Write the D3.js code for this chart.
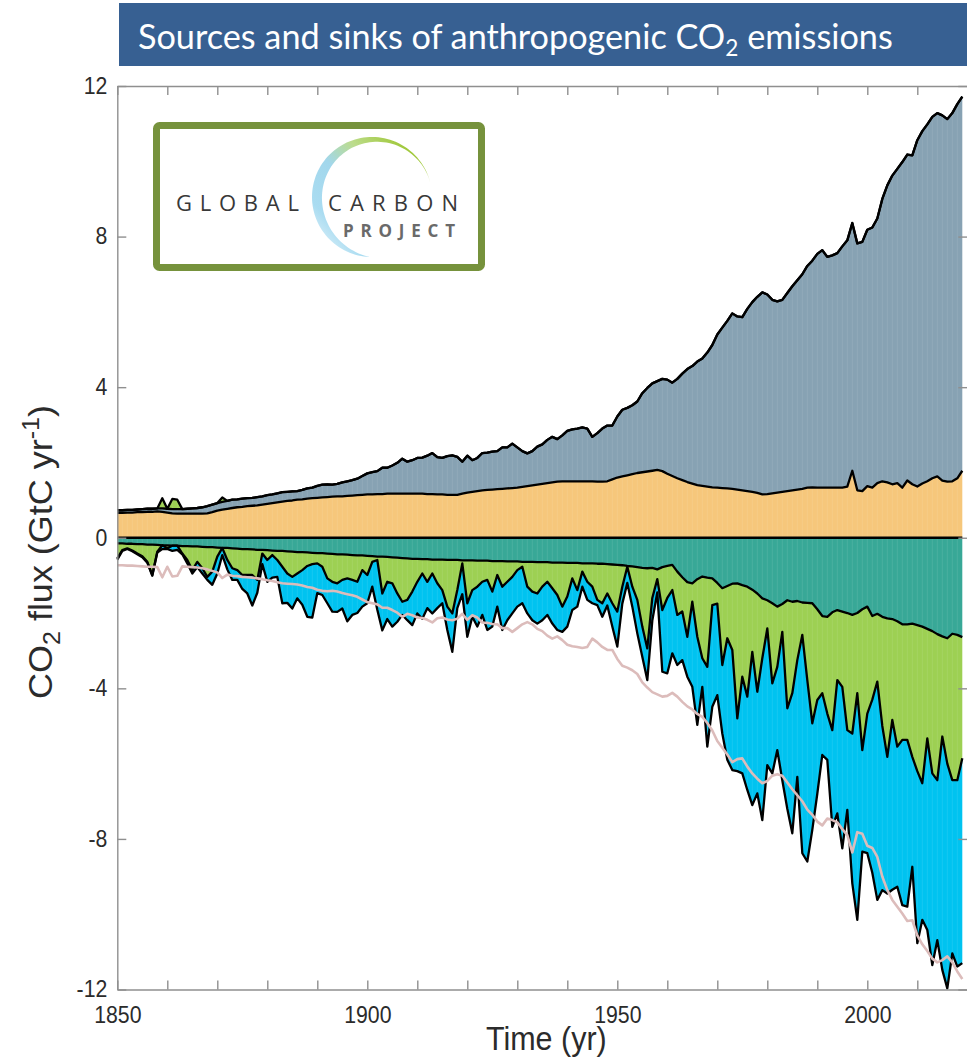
<!DOCTYPE html>
<html>
<head>
<meta charset="utf-8">
<script src="https://cdn.jsdelivr.net/npm/d3@7"></script>
<style>
  body { margin: 0; background: #ffffff; }
  svg { display: block; }
</style>
</head>
<body>
<svg id="chart" width="967" height="1057"></svg>
<script>
// Annual carbon budget components, 1850-2019 (GtC per year)
const firstYear = 1850;
const lastYear = 2019;

const fossil = [
  0.07,0.07,0.07,0.07,0.07,0.08,0.08,0.08,0.08,0.09,
  0.10,0.11,0.12,0.12,0.13,0.14,0.15,0.17,0.19,0.20,
  0.20,0.20,0.21,0.22,0.21,0.22,0.21,0.21,0.22,0.22,
  0.23,0.23,0.24,0.25,0.24,0.24,0.23,0.25,0.27,0.28,
  0.32,0.34,0.34,0.32,0.33,0.37,0.39,0.41,0.44,0.50,
  0.56,0.59,0.61,0.70,0.69,0.75,0.82,0.93,0.85,0.89,
  0.95,0.96,1.02,1.09,0.99,0.97,1.03,1.05,1.01,0.85,
  0.98,0.84,0.88,0.99,0.99,1.01,1.01,1.10,1.09,1.18,
  1.07,0.95,0.87,0.91,1.01,1.05,1.15,1.21,1.13,1.22,
  1.34,1.38,1.40,1.43,1.40,1.18,1.29,1.41,1.48,1.43,
  1.62,1.77,1.79,1.83,1.90,2.10,2.22,2.32,2.36,2.45,
  2.50,2.48,2.64,2.83,3.00,3.12,3.28,3.38,3.56,3.78,
  4.07,4.26,4.45,4.66,4.60,4.60,4.84,5.04,5.21,5.37,
  5.30,5.14,5.08,5.10,5.26,5.42,5.56,5.70,5.89,6.02,
  6.21,6.31,6.13,6.17,6.23,6.41,6.54,6.58,6.56,6.62,
  6.81,6.91,7.03,7.50,7.89,8.20,8.35,8.65,8.66,8.74,
  9.20,9.36,9.48,9.60,9.65,9.70,9.63,9.78,9.94,9.94
];

const landUse = [
  0.66,0.66,0.67,0.67,0.68,0.68,0.69,0.69,0.70,0.69,
  0.67,0.65,0.64,0.64,0.64,0.64,0.64,0.64,0.65,0.68,
  0.72,0.75,0.77,0.79,0.81,0.82,0.84,0.85,0.86,0.88,
  0.90,0.92,0.94,0.96,0.98,0.99,1.01,1.02,1.04,1.05,
  1.06,1.07,1.08,1.09,1.10,1.10,1.11,1.12,1.13,1.14,
  1.15,1.15,1.16,1.16,1.17,1.17,1.17,1.17,1.17,1.17,
  1.17,1.17,1.16,1.16,1.15,1.15,1.14,1.14,1.14,1.17,
  1.20,1.22,1.24,1.26,1.27,1.28,1.29,1.30,1.31,1.32,
  1.33,1.35,1.37,1.39,1.41,1.43,1.45,1.47,1.49,1.50,
  1.50,1.50,1.50,1.50,1.50,1.50,1.49,1.49,1.50,1.55,
  1.60,1.63,1.66,1.69,1.72,1.74,1.76,1.78,1.80,1.77,
  1.70,1.64,1.58,1.53,1.48,1.44,1.40,1.38,1.36,1.34,
  1.33,1.32,1.31,1.30,1.28,1.26,1.24,1.22,1.19,1.15,
  1.16,1.18,1.20,1.22,1.24,1.26,1.28,1.30,1.33,1.34,
  1.33,1.33,1.33,1.33,1.33,1.33,1.36,1.78,1.26,1.24,
  1.37,1.33,1.45,1.50,1.47,1.42,1.45,1.33,1.52,1.42,
  1.36,1.44,1.50,1.58,1.63,1.52,1.49,1.50,1.58,1.78
];

const oceanSink = [
  0.15,0.15,0.16,0.16,0.17,0.17,0.18,0.18,0.19,0.20,
  0.20,0.21,0.21,0.22,0.22,0.23,0.23,0.24,0.25,0.25,
  0.26,0.27,0.27,0.28,0.29,0.30,0.30,0.31,0.32,0.32,
  0.33,0.34,0.35,0.35,0.36,0.37,0.38,0.38,0.39,0.40,
  0.41,0.41,0.42,0.43,0.44,0.44,0.45,0.46,0.47,0.47,
  0.48,0.49,0.50,0.50,0.51,0.52,0.53,0.54,0.55,0.56,
  0.56,0.57,0.57,0.58,0.58,0.58,0.59,0.59,0.59,0.60,
  0.60,0.60,0.61,0.61,0.61,0.62,0.62,0.62,0.63,0.63,
  0.63,0.64,0.64,0.64,0.65,0.65,0.65,0.66,0.66,0.66,
  0.67,0.67,0.67,0.68,0.68,0.68,0.69,0.69,0.70,0.71,
  0.72,0.73,0.75,0.76,0.78,0.80,0.81,0.80,0.84,0.78,
  0.75,0.72,0.90,1.05,1.18,1.21,1.10,1.03,1.06,1.08,
  1.20,1.34,1.28,1.22,1.21,1.26,1.30,1.38,1.48,1.61,
  1.66,1.74,1.83,1.76,1.66,1.70,1.68,1.72,1.73,1.74,
  1.90,2.08,2.10,1.98,1.92,1.96,2.00,2.05,2.00,1.90,
  1.83,2.08,2.02,2.10,2.14,2.16,2.22,2.30,2.30,2.28,
  2.32,2.36,2.42,2.48,2.56,2.62,2.67,2.55,2.58,2.64
];

// positive = uptake by land, negative = land acting as a net source
const landSink = [
  0.40,0.18,0.12,0.18,0.25,0.32,0.46,0.81,0.18,-0.27,
  0.08,-0.27,-0.25,0.20,0.37,0.63,0.41,0.57,0.79,0.65,
  0.24,-0.12,0.32,0.53,0.57,0.69,0.69,0.68,0.80,0.10,
  0.26,0.12,0.24,0.42,0.59,0.67,0.57,0.48,0.36,0.30,
  0.27,0.36,0.66,0.74,0.77,0.68,0.63,0.66,0.70,0.39,
  0.51,0.15,0.09,0.98,0.66,0.69,0.95,1.16,1.10,0.87,
  0.61,0.38,0.60,0.37,0.63,0.81,1.24,1.42,0.80,0.08,
  1.14,0.79,0.69,0.56,0.51,0.81,0.37,0.68,0.54,0.41,
  0.23,0.13,0.66,0.79,0.83,0.65,0.52,0.68,0.86,1.17,
  0.89,0.41,0.72,0.22,0.49,0.62,0.96,1.05,0.78,1.03,
  1.24,0.57,0.02,0.54,0.87,1.56,2.13,0.80,0.26,1.14,
  0.85,0.67,1.15,0.91,1.45,0.49,1.53,2.17,2.37,0.71,
  0.55,2.04,1.39,1.76,3.59,2.43,2.92,1.65,2.61,1.59,
  0.75,2.13,1.60,0.74,2.87,2.43,1.57,0.86,2.05,3.19,
  2.41,2.05,2.57,3.13,1.86,2.00,3.11,3.15,2.13,3.74,
  2.84,2.22,1.80,2.90,3.68,2.68,3.33,3.07,3.07,3.54,
  3.88,4.16,2.91,3.78,3.88,2.66,3.33,3.89,3.86,3.22
];

const atmGrowth = [
  0.03,0.02,0.02,0.02,0.02,0.03,0.02,0.02,0.02,0.10,
  0.02,0.14,0.11,0.02,0.09,0.09,0.14,0.14,0.08,0.35,
  0.45,0.19,0.25,0.31,0.26,0.37,0.49,0.81,0.34,0.28,
  0.58,0.60,0.45,0.97,0.78,0.84,0.66,0.92,1.35,1.42,
  0.79,0.75,0.66,0.79,0.76,0.76,1.14,0.93,0.83,0.97,
  0.75,0.66,1.32,0.98,0.99,1.15,0.75,0.35,0.54,0.89,
  0.84,1.20,0.70,1.06,0.66,0.35,0.62,1.02,0.48,0.82,
  0.89,0.71,1.06,0.88,1.33,0.93,0.84,1.15,1.02,0.97,
  0.97,0.97,0.71,0.76,0.80,0.89,0.88,0.94,0.93,0.67,
  0.80,0.84,0.44,0.40,0.48,0.44,0.14,0.36,0.32,0.62,
  0.93,0.45,0.43,0.53,0.89,0.80,0.84,0.60,0.35,1.64,
  2.00,1.68,1.33,1.29,1.06,2.26,2.34,0.76,2.12,2.70,
  2.43,1.82,3.23,3.19,1.40,2.57,2.48,4.07,2.70,4.30,
  3.63,2.39,2.21,3.94,2.67,3.72,3.10,5.80,4.82,2.83,
  2.49,1.64,1.23,2.57,3.54,4.29,2.12,3.98,6.02,2.70,
  3.71,4.60,5.80,4.36,3.63,4.51,3.72,4.39,4.43,2.92,
  4.57,3.63,5.09,5.09,4.25,6.20,5.97,4.60,4.95,5.44
];

const yTickValues = [-12, -8, -4, 0, 4, 8, 12];
const xTickValues = d3.range(1850, 2021, 10);
const xTickLabels = [1850, 1900, 1950, 2000];

const colors = {
  fossil: "#87a2b3",
  landUse: "#f6c77b",
  ocean: "#38a897",
  land: "#9dd053",
  atm: "#00c3f0",
  mirror: "#dcbcbb",
  outline: "#000000",
  axis: "#8f8f8f",
  label: "#2b2b2b"
};

const svg = d3.select("#chart");
const W = 967, H = 1057;
const plot = { left: 117.3, right: 967.3, top: 86, bottom: 989.5 };

const x = d3.scaleLinear().domain([1850, 2020]).range([plot.left, plot.right]);
const y = d3.scaleLinear().domain([-12, 12]).range([plot.bottom, plot.top]);

// Stack sources upward and sinks downward
const rows = d3.range(firstYear, lastYear + 1).map((yr, i) => {
  const luc = landUse[i];
  const fos = fossil[i];
  const landSource = Math.max(0, -landSink[i]);
  const landUptake = Math.max(0, landSink[i]);
  const oc = oceanSink[i];
  const at = atmGrowth[i];
  return {
    yr,
    lucTop: luc,
    fosTop: luc + fos,
    srcTop: luc + fos + landSource,
    ocBot: -oc,
    landBot: -oc - landUptake,
    atmBot: -oc - landUptake - at
  };
});

const area = (lo, hi) => d3.area()
  .x(d => x(d.yr))
  .y0(d => y(lo(d)))
  .y1(d => y(hi(d)));
const line = f => d3.line().x(d => x(d.yr)).y(d => y(f(d)));

const g = svg.append("g");

// filled layers
g.append("path").datum(rows).attr("fill", colors.landUse)
  .attr("d", area(() => 0, d => d.lucTop));
g.append("path").datum(rows).attr("fill", colors.fossil)
  .attr("d", area(d => d.lucTop, d => d.fosTop));
g.append("path").datum(rows).attr("fill", colors.land)
  .attr("d", area(d => d.fosTop, d => d.srcTop));
g.append("path").datum(rows).attr("fill", colors.ocean)
  .attr("d", area(() => 0, d => d.ocBot));
g.append("path").datum(rows).attr("fill", colors.land)
  .attr("d", area(d => d.ocBot, d => d.landBot));
g.append("path").datum(rows).attr("fill", colors.atm)
  .attr("d", area(d => d.landBot, d => d.atmBot));

// faint seams between the yearly patches of the filled layers
g.append("g")
  .selectAll("line")
  .data(rows.slice(1, -1))
  .join("line")
  .attr("x1", d => x(d.yr)).attr("x2", d => x(d.yr))
  .attr("y1", d => y(d.srcTop)).attr("y2", d => y(d.atmBot))
  .attr("stroke", "#ffffff")
  .attr("stroke-opacity", 0.09)
  .attr("stroke-width", 1);

// outlines of every layer boundary
const bounds = [d => d.lucTop, d => d.fosTop, d => d.srcTop, () => 0,
                d => d.ocBot, d => d.landBot, d => d.atmBot];
bounds.forEach(f => {
  g.append("path").datum(rows)
    .attr("fill", "none")
    .attr("stroke", colors.outline)
    .attr("stroke-width", 2.3)
    .attr("stroke-linejoin", "round")
    .attr("d", line(f));
});

// total emissions mirrored below zero
g.append("path").datum(rows)
  .attr("fill", "none")
  .attr("stroke", colors.mirror)
  .attr("stroke-width", 2.6)
  .attr("stroke-linejoin", "round")
  .attr("d", line(d => -d.srcTop));

// axes box with inward ticks
const axisFont = "'Liberation Sans', Arial, Helvetica, sans-serif";
const squeeze = 0.925;

function styleAxis(sel) {
  sel.select(".domain").attr("stroke", colors.axis).attr("stroke-width", 1.4);
  sel.selectAll(".tick line").attr("stroke", colors.axis).attr("stroke-width", 1.4);
  sel.selectAll(".tick text")
    .attr("fill", colors.label)
    .style("font-family", axisFont)
    .style("font-size", "23px");
}

const xBottom = svg.append("g")
  .attr("transform", `translate(0,${plot.bottom})`)
  .call(d3.axisBottom(x).tickValues(xTickValues)
    .tickSizeInner(-9).tickSizeOuter(0).tickPadding(17)
    .tickFormat(d => xTickLabels.includes(d) ? String(d) : ""));
styleAxis(xBottom);
xBottom.selectAll(".tick text").attr("transform", `scale(${squeeze},1)`);

const xTop = svg.append("g")
  .attr("transform", `translate(0,${plot.top})`)
  .call(d3.axisTop(x).tickValues(xTickValues)
    .tickSizeInner(-9).tickSizeOuter(0).tickFormat(() => ""));
styleAxis(xTop);

const yLeft = svg.append("g")
  .attr("transform", `translate(${plot.left},0)`)
  .call(d3.axisLeft(y).tickValues(yTickValues)
    .tickSizeInner(-9).tickSizeOuter(0).tickPadding(10)
    .tickFormat(d => String(d)));
styleAxis(yLeft);
yLeft.selectAll(".tick text").attr("transform", `scale(${squeeze},1)`)
  .attr("x", -10 / squeeze);

const yRight = svg.append("g")
  .attr("transform", `translate(${plot.right},0)`)
  .call(d3.axisRight(y).tickValues(yTickValues)
    .tickSizeInner(-9).tickSizeOuter(0).tickFormat(() => ""));
styleAxis(yRight);

// axis titles
svg.append("text")
  .attr("transform", `translate(${(plot.left + plot.right) / 2 + 4},1050) scale(${squeeze},1)`)
  .attr("text-anchor", "middle")
  .attr("fill", colors.label)
  .style("font-family", axisFont)
  .style("font-size", "33px")
  .text("Time (yr)");

const yTitle = svg.append("text")
  .attr("transform", `translate(52,552) rotate(-90) scale(1,${squeeze})`)
  .attr("text-anchor", "middle")
  .attr("fill", colors.label)
  .style("font-family", axisFont)
  .style("font-size", "36px");
yTitle.append("tspan").text("CO");
yTitle.append("tspan").attr("dy", 9).style("font-size", "25px").text("2");
yTitle.append("tspan").attr("dy", -9).text(" flux (GtC yr");
yTitle.append("tspan").attr("dy", -14).style("font-size", "25px").text("-1");
yTitle.append("tspan").attr("dy", 14).text(")");

// title banner
svg.append("rect")
  .attr("x", 119).attr("y", 3).attr("width", W - 119).attr("height", 63)
  .attr("fill", "#376092");
const title = svg.append("text")
  .attr("x", 138).attr("y", 49)
  .attr("fill", "#ffffff")
  .style("font-family", "Lato, 'Open Sans', sans-serif")
  .style("font-size", "32px");
title.append("tspan").text("Sources and sinks of anthropogenic CO");
title.append("tspan").attr("dy", 7).style("font-size", "21px").text("2");
title.append("tspan").attr("dy", -7).text(" emissions");
// fit the banner text to its width
const targetWidth = 755;
const measured = title.node().getComputedTextLength();
if (measured > 0) {
  const fs = 32 * targetWidth / measured;
  title.style("font-size", fs + "px");
  title.selectAll("tspan").filter((d, i) => i === 1).style("font-size", (fs * 0.66) + "px");
}

// Global Carbon Project logo
const logo = svg.append("g");
logo.append("rect")
  .attr("x", 156.5).attr("y", 125.5).attr("width", 325).attr("height", 142)
  .attr("rx", 3)
  .attr("fill", "#ffffff")
  .attr("stroke", "#76923c")
  .attr("stroke-width", 7);

const defs = svg.append("defs");
const grad = defs.append("linearGradient")
  .attr("id", "gcpArc")
  .attr("gradientUnits", "userSpaceOnUse")
  .attr("x1", 432).attr("y1", 165).attr("x2", 330).attr("y2", 262);
grad.append("stop").attr("offset", "0%").attr("stop-color", "#9cc52e");
grad.append("stop").attr("offset", "30%").attr("stop-color", "#bcdc8c");
grad.append("stop").attr("offset", "52%").attr("stop-color", "#a2d7ec");
grad.append("stop").attr("offset", "80%").attr("stop-color", "#aadcf1");
grad.append("stop").attr("offset", "100%").attr("stop-color", "#e2f3fa");

const arcCx = 372, arcCy = 197, arcR = 60;
const a0 = -13 * Math.PI / 180, a1 = -268 * Math.PI / 180;
const steps = 90;
const outerPts = [], innerPts = [];
for (let k = 0; k <= steps; k++) {
  const u = k / steps;
  const a = a0 + (a1 - a0) * u;
  const t = 10 * Math.sin(Math.PI * Math.pow(u, 1.5));
  outerPts.push([arcCx + arcR * Math.cos(a), arcCy + arcR * Math.sin(a)]);
  innerPts.push([arcCx + (arcR - t) * Math.cos(a), arcCy + (arcR - t) * Math.sin(a)]);
}
logo.append("path")
  .attr("d", d3.line()(outerPts.concat(innerPts.reverse())) + "Z")
  .attr("fill", "url(#gcpArc)");

const logoFont = "'Open Sans', 'Noto Sans', sans-serif";
logo.append("text")
  .attr("x", 176).attr("y", 211)
  .attr("textLength", 123).attr("lengthAdjust", "spacing")
  .attr("fill", "#383838")
  .style("font-family", logoFont).style("font-size", "22px")
  .text("GLOBAL");
logo.append("text")
  .attr("x", 328).attr("y", 211)
  .attr("textLength", 130).attr("lengthAdjust", "spacing")
  .attr("fill", "#383838")
  .style("font-family", logoFont).style("font-size", "22px")
  .text("CARBON");
logo.append("text")
  .attr("x", 343).attr("y", 237)
  .attr("textLength", 112).attr("lengthAdjust", "spacing")
  .attr("fill", "#6a6a6a")
  .style("font-family", logoFont).style("font-size", "17px").style("font-weight", "700")
  .text("PROJECT");
</script>
</body>
</html>
